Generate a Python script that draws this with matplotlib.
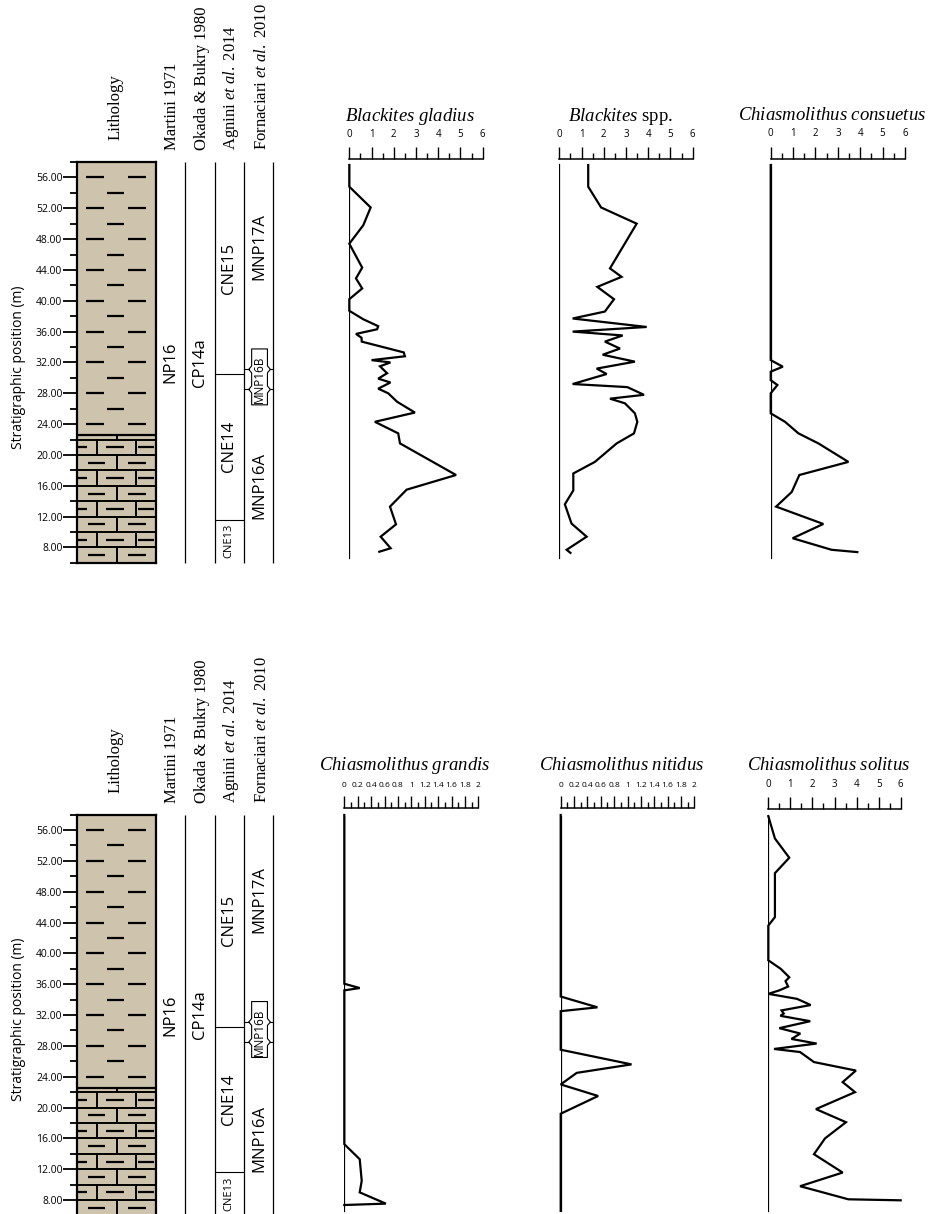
import matplotlib
matplotlib.use("Agg")
import matplotlib.pyplot as plt
import numpy as np
from matplotlib.ticker import MultipleLocator, FixedLocator, FuncFormatter
from matplotlib.patches import Polygon

plt.rcParams["font.family"] = ["Open Sans", "DejaVu Sans"]
plt.rcParams["mathtext.fontset"] = "custom"
plt.rcParams["mathtext.rm"] = "Liberation Serif"
plt.rcParams["mathtext.it"] = "Liberation Serif:italic"

# ---------------------------------------------------------------- data
# lithology units (base, top in m) and type
litho_base = [6.0, 22.6]
litho_top = [22.6, 58.0]
litho_type = ["limestone", "marl"]

# biozones
martini_names = ["NP16"]
martini_bounds = [6.0, 58.0]
okada_names = ["CP14a"]
okada_bounds = [6.0, 58.0]
agnini_names = ["CNE13", "CNE14", "CNE15"]
agnini_bounds = [6.0, 11.6, 30.5, 58.0]
fornaciari_names = ["MNP16A", "MNP16B", "MNP17A"]
fornaciari_bounds = [6.0, 28.5, 31.1, 58.0]

header_labels = ["Lithology", "Martini 1971", "Okada & Bukry 1980",
                 r"Agnini $\mathit{et\ al.}$ 2014",
                 r"Fornaciari $\mathit{et\ al.}$ 2010"]

# abundance records (depth in m, value)
gladius_depth = [57.6, 54.8, 52.1, 49.8, 47.4, 44.3, 42.9, 41.6, 40.2, 38.7,
                 37.6, 36.7, 36.3, 35.7, 35.2, 34.7, 33.3, 32.8, 32.3, 32.0,
                 31.5, 30.6, 29.9, 29.4, 28.6, 28.0, 26.9, 25.5, 24.3, 22.8,
                 21.5, 17.4, 15.5, 13.3, 11.0, 9.4, 7.9, 7.45]
gladius_val = [0, 0, 0.96, 0.63, 0, 0.58, 0.3, 0.58, 0, 0,
               0.63, 1.3, 1.25, 0.3, 0.55, 0.56, 2.45, 2.5, 1.0, 1.85,
               1.38, 1.7, 1.3, 1.85, 1.3, 1.75, 2.15, 2.95, 1.15, 2.2,
               2.28, 4.8, 2.58, 1.83, 2.1, 1.41, 1.86, 1.35]

spp_depth = [57.6, 54.8, 52.1, 50.0, 44.2, 43.1, 41.8, 40.2, 38.6, 37.7,
             36.6, 36.0, 35.5, 34.7, 33.8, 33.0, 32.1, 31.2, 30.5, 29.2,
             28.8, 27.8, 27.3, 26.7, 25.4, 24.3, 22.8, 21.5, 19.1, 17.6,
             15.4, 13.6, 11.1, 9.4, 7.7, 7.3]
spp_val = [1.3, 1.3, 1.88, 3.48, 2.28, 2.8, 1.71, 2.46, 2.05, 0.6,
           3.93, 0.6, 2.85, 2.05, 2.73, 1.95, 3.4, 1.68, 2.13, 0.6,
           3.06, 3.81, 2.28, 2.95, 3.4, 3.51, 3.36, 2.58, 1.6, 0.63,
           0.63, 0.25, 0.55, 1.23, 0.33, 0.5]

consuetus_depth = [57.6, 32.3, 31.45, 30.8, 29.7, 29.07, 28.0, 25.4, 24.3, 22.8,
                   21.5, 19.1, 17.4, 15.2, 13.3, 11.05, 9.2, 7.7, 7.4]
consuetus_val = [0, 0, 0.54, 0, 0, 0.3, 0, 0, 0.64, 1.24,
                 2.13, 3.47, 1.28, 0.94, 0.24, 2.35, 0.98, 2.72, 3.87]

grandis_depth = [57.95, 36.06, 35.5, 35.2, 15.25, 13.3, 10.5, 9.0, 7.54, 7.36]
grandis_val = [0, 0, 0.23, 0, 0, 0.23, 0.26, 0.23, 0.62, 0]

nitidus_depth = [57.95, 34.4, 33.0, 32.5, 27.5, 25.6, 24.5, 23.0, 21.5, 19.2, 6.6]
nitidus_val = [0, 0, 0.55, 0, 0, 1.06, 0.24, 0, 0.56, 0, 0]

solitus_depth = [57.8, 54.9, 52.4, 50.4, 44.7, 43.6, 39.1, 38.0, 36.9, 36.4,
                 35.7, 35.2, 34.75, 34.1, 33.3, 32.6, 32.2, 31.9, 31.2, 30.3,
                 29.6, 28.9, 28.3, 27.6, 27.2, 25.9, 24.8, 23.3, 22.0, 19.8,
                 18.1, 16.0, 13.95, 11.57, 9.8, 8.1, 7.97]
solitus_val = [0, 0.3, 0.95, 0.3, 0.3, 0, 0, 0.56, 0.95, 0.78,
               0.9, 0.5, 0, 1.3, 1.92, 0.6, 0.7, 0.55, 1.9, 0.5,
               1.45, 1.05, 2.19, 0.26, 1.44, 2.07, 3.97, 3.37, 3.93, 2.16,
               3.52, 2.57, 2.07, 3.37, 1.44, 3.63, 6.0]

# ---------------------------------------------------------------- layout
W, H = 930, 1214
PX_PER_M = 7.71
DEPTH_MIN, DEPTH_MAX = 6.0, 58.0
BASELINE_SPAN = (6.6, 57.8)
SERIF = "Liberation Serif"
LITHO_FILL = "#cec3ad"

fig = plt.figure(figsize=(W / 100, H / 100), dpi=100)


def add_px_axes(x0, x1, y0, y1):
    return fig.add_axes([x0 / W, 1 - y1 / H, (x1 - x0) / W, (y1 - y0) / H])


def fig_text(x, y, s, **kw):
    return fig.text(x / W, 1 - y / H, s, **kw)


def draw_lithology(ax):
    ax.set_xlim(0, 1)
    ax.set_ylim(DEPTH_MIN, DEPTH_MAX)
    for b, t, kind in zip(litho_base, litho_top, litho_type):
        ax.axhspan(b, t, color=LITHO_FILL, lw=0, zorder=0)
        if kind == "marl":
            rows = np.arange(np.ceil(b / 2) * 2, t, 2)
            for r in rows:
                if r % 4 == 0:
                    segs = [(0.11, 0.34), (0.65, 0.87)]
                else:
                    segs = [(0.38, 0.60)]
                for s0, s1 in segs:
                    ax.plot([s0, s1], [r, r], color="black", lw=1.6,
                            solid_capstyle="butt")
        else:
            edges = list(np.arange(b, t, 2)) + [t]
            for i in range(len(edges) - 1):
                lo, hi = edges[i], edges[i + 1]
                ax.axhline(lo, color="black", lw=1.4)
                if i % 2 == 0:
                    verts = [0.5]
                    segs = [(0.14, 0.35), (0.65, 0.87)]
                else:
                    verts = [0.25, 0.75]
                    segs = [(0.01, 0.13), (0.37, 0.60), (0.77, 0.97)]
                for v in verts:
                    ax.plot([v, v], [lo, hi], color="black", lw=1.4)
                if hi - lo > 1.5:
                    mid = (lo + hi) / 2
                    for s0, s1 in segs:
                        ax.plot([s0, s1], [mid, mid], color="black", lw=1.6,
                                solid_capstyle="butt")
            ax.axhline(t, color="black", lw=1.6)
    for sp in ax.spines.values():
        sp.set_linewidth(1.6)
    ax.set_xticks([])
    ax.yaxis.set_major_locator(MultipleLocator(4))
    ax.yaxis.set_minor_locator(FixedLocator(np.arange(6, 59, 4)))
    ax.yaxis.set_major_formatter(FuncFormatter(lambda v, p: f"{v:.2f}"))
    ax.tick_params(axis="y", which="major", length=10, width=1.3, pad=0.5,
                   labelsize=7.5)
    ax.tick_params(axis="y", which="minor", length=5, width=1.3)


def draw_zones(ax):
    ax.set_xlim(0, 4)
    ax.set_ylim(DEPTH_MIN, DEPTH_MAX)
    ax.axis("off")
    ax.vlines([1, 2, 3, 4], DEPTH_MIN, DEPTH_MAX, color="black", lw=0.9,
              clip_on=False)
    # Martini and Okada & Bukry
    for col, names, bounds in [(0, martini_names, martini_bounds),
                               (1, okada_names, okada_bounds)]:
        for i, n in enumerate(names):
            mid = (bounds[i] + bounds[i + 1]) / 2
            ax.text(col + 0.5, mid, n, rotation=90, ha="center", va="center",
                    fontsize=12)
    # Agnini et al.
    ax.hlines(agnini_bounds[1:-1], 2, 3, color="black", lw=0.8)
    for i, n in enumerate(agnini_names):
        mid = (agnini_bounds[i] + agnini_bounds[i + 1]) / 2
        size = 8 if (agnini_bounds[i + 1] - agnini_bounds[i]) < 8 else 12
        ax.text(2.5, mid, n, rotation=90, ha="center", va="center",
                fontsize=size)
    # Fornaciari et al.: short zone framed by a bracketed box
    lo, hi = fornaciari_bounds[1], fornaciari_bounds[2]
    cx, half, tip = 3.54, 0.27, 0.1
    box_l, box_r = cx - half, cx + half
    box_lo, box_hi = lo - 2.0, hi + 2.65
    for y in (lo, hi):
        ax.plot([3, box_l - tip], [y, y], color="black", lw=0.8)
        ax.plot([box_r + tip, 4], [y, y], color="black", lw=0.8)
    left = [(box_l, box_hi), (box_l, hi + 0.45), (box_l - tip, hi),
            (box_l, hi - 0.45), (box_l, lo + 0.45), (box_l - tip, lo),
            (box_l, lo - 0.45), (box_l, box_lo)]
    right = [(2 * cx - x, y) for x, y in reversed(left)]
    ax.add_patch(Polygon(left + right, closed=True, fill=False,
                         edgecolor="black", lw=0.8, joinstyle="round"))
    label_depth = {"MNP16A": 16.0, "MNP17A": 47.0}
    for i, n in enumerate(fornaciari_names):
        mid = (fornaciari_bounds[i] + fornaciari_bounds[i + 1]) / 2
        d = label_depth.get(n, mid)
        size = 8.5 if n == "MNP16B" else 12
        ax.text(cx, d, n, rotation=90, ha="center", va="center",
                fontsize=size)


def draw_curve(base, title, x0, x1, axis_px, xmax, major, minor,
               depth, val, labelsize, title_dx=-6):
    ybot = base + (56 - DEPTH_MIN) * PX_PER_M
    d_axis = 56 + (base - axis_px) / PX_PER_M
    ax = add_px_axes(x0, x1, axis_px, ybot)
    ax.set_xlim(0, xmax)
    ax.set_ylim(DEPTH_MIN, d_axis)
    for k in ("left", "right", "bottom"):
        ax.spines[k].set_visible(False)
    ax.spines["top"].set_linewidth(1.1)
    ax.patch.set_visible(False)
    ax.xaxis.tick_top()
    ax.set_xticks(np.arange(0, xmax + 1e-9, major))
    ax.set_xticks(np.arange(minor, xmax, major), minor=True)
    ax.xaxis.set_major_formatter(FuncFormatter(lambda v, p: f"{v:g}"))
    ax.tick_params(axis="x", which="major", direction="out", length=9,
                   width=1.0, pad=5, labelsize=labelsize)
    ax.tick_params(axis="x", which="minor", direction="out", length=4.5,
                   width=1.0)
    ax.set_yticks([])
    span = d_axis - DEPTH_MIN
    ax.axvline(0, ymin=(BASELINE_SPAN[0] - DEPTH_MIN) / span,
               ymax=(BASELINE_SPAN[1] - DEPTH_MIN) / span,
               color="black", lw=0.9)
    ax.plot(val, depth, color="black", lw=1.6, clip_on=False,
            solid_joinstyle="miter")
    fig_text((x0 + x1) / 2 + title_dx, axis_px - 43, title, ha="center",
             va="center", fontsize=13.5, family=SERIF)
    return ax


def draw_left_panel(base):
    top = base + (56 - DEPTH_MAX) * PX_PER_M
    bot = base + (56 - DEPTH_MIN) * PX_PER_M
    draw_lithology(add_px_axes(77, 156, top, bot))
    draw_zones(add_px_axes(156, 273, top, bot))
    header_x = [116, 172, 202, 231, 262]
    header_y = [140, 150, 150, 150, 150]
    for x, y, s in zip(header_x, header_y, header_labels):
        fig_text(x, base - 177.4 + y, s, rotation=90, ha="center",
                 va="bottom", fontsize=12, family=SERIF)
    fig_text(18, base + 189.6, "Stratigraphic position (m)", rotation=90,
             ha="center", va="center", fontsize=10)


# top row
BASE_TOP = 177.4
draw_left_panel(BASE_TOP)
draw_curve(BASE_TOP, r"$\mathit{Blackites\ gladius}$", 349.3, 482.7, 159.3,
           6, 1, 0.5, gladius_depth, gladius_val, 7)
draw_curve(BASE_TOP, r"$\mathit{Blackites}$ spp.", 559.3, 692.7, 159.3,
           6, 1, 0.5, spp_depth, spp_val, 7)
draw_curve(BASE_TOP, r"$\mathit{Chiasmolithus\ consuetus}$", 770.7, 905.0,
           158.5, 6, 1, 0.5, consuetus_depth, consuetus_val, 7)

# bottom row
BASE_BOT = 830.0
draw_left_panel(BASE_BOT)
draw_curve(BASE_BOT, r"$\mathit{Chiasmolithus\ grandis}$", 344.3, 478.3, 808.3,
           2, 0.2, 0.1, grandis_depth, grandis_val, 6)
draw_curve(BASE_BOT, r"$\mathit{Chiasmolithus\ nitidus}$", 560.7, 694.3, 808.3,
           2, 0.2, 0.1, nitidus_depth, nitidus_val, 6)
draw_curve(BASE_BOT, r"$\mathit{Chiasmolithus\ solitus}$", 768.3, 900.7, 809.0,
           6, 1, 0.5, solitus_depth, solitus_val, 7)

fig.savefig("out.png", dpi=100)
